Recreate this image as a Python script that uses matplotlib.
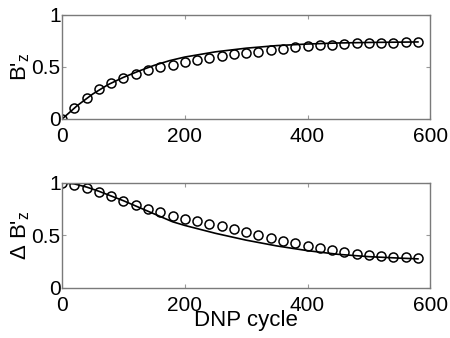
import numpy as np
import matplotlib
matplotlib.use("Agg")
import matplotlib.pyplot as plt

plt.rcParams['font.family'] = ['Liberation Sans', 'DejaVu Sans']
plt.rcParams['mathtext.fontset'] = 'custom'
plt.rcParams['mathtext.rm'] = 'Liberation Sans'
plt.rcParams['mathtext.it'] = 'Liberation Sans'

# measured points (every 20 DNP cycles)
cycles = np.arange(0, 600, 20)
bz_meas = [0.0, 0.11, 0.205, 0.285, 0.343, 0.39, 0.433, 0.468, 0.497, 0.522,
           0.545, 0.564, 0.583, 0.606, 0.623, 0.635, 0.648, 0.661, 0.674, 0.687,
           0.697, 0.706, 0.713, 0.719, 0.726, 0.726, 0.729, 0.732, 0.735, 0.739]
dbz_meas = [1.0, 0.984, 0.952, 0.911, 0.873, 0.829, 0.79, 0.752, 0.72, 0.689,
            0.66, 0.635, 0.613, 0.587, 0.557, 0.532, 0.503, 0.472, 0.45, 0.424,
            0.402, 0.38, 0.361, 0.342, 0.326, 0.316, 0.307, 0.297, 0.291, 0.282]

# model curves
bz_x = [0, 25, 50, 75, 100, 125, 150, 175, 200, 250, 300, 350, 400, 450, 500, 550, 580]
bz_fit = [0.0, 0.13, 0.24, 0.33, 0.40, 0.46, 0.515, 0.56, 0.595, 0.645, 0.68,
          0.705, 0.72, 0.73, 0.735, 0.738, 0.74]
dbz_x = [0, 20, 40, 60, 80, 100, 120, 140, 160, 180, 200, 250, 300, 350, 400,
         450, 500, 550, 580]
dbz_fit = [1.0, 0.99, 0.96, 0.92, 0.875, 0.83, 0.78, 0.73, 0.68, 0.63, 0.595,
           0.52, 0.455, 0.40, 0.355, 0.32, 0.298, 0.284, 0.277]

fig = plt.figure(figsize=(4.5, 3.38), dpi=100)
ax1 = fig.add_axes([0.138, 0.648, 0.818, 0.308])
ax2 = fig.add_axes([0.138, 0.148, 0.818, 0.311])

def style(ax):
    ax.set_xlim(0, 600)
    ax.set_ylim(0, 1)
    ax.set_xticks([0, 200, 400, 600])
    ax.set_yticks([0, 0.5, 1])
    ax.set_yticklabels(['0', '0.5', '1'])
    ax.tick_params(direction='in', top=True, right=True, length=3,
                   color='#999999', labelsize=15)
    ax.tick_params(axis='x', pad=6)
    ax.tick_params(axis='y', pad=1)
    for s in ax.spines.values():
        s.set_color('#7a7a7a')
        s.set_linewidth(1.0)

for ax, xf, yf, ym in [(ax1, bz_x, bz_fit, bz_meas), (ax2, dbz_x, dbz_fit, dbz_meas)]:
    ax.plot(xf, yf, color='black', lw=1.2)
    ax.plot(cycles, ym, 'o', mfc='none', mec='black', ms=6.5, mew=1.1)
    style(ax)

ax1.set_ylabel(r"B$'_z$", fontsize=16, labelpad=0)
ax2.set_ylabel(r"$\Delta$ B$'_z$", fontsize=16, labelpad=0)
ax2.set_xlabel("DNP cycle", fontsize=16, labelpad=-4)

fig.savefig("out.png", dpi=100)
